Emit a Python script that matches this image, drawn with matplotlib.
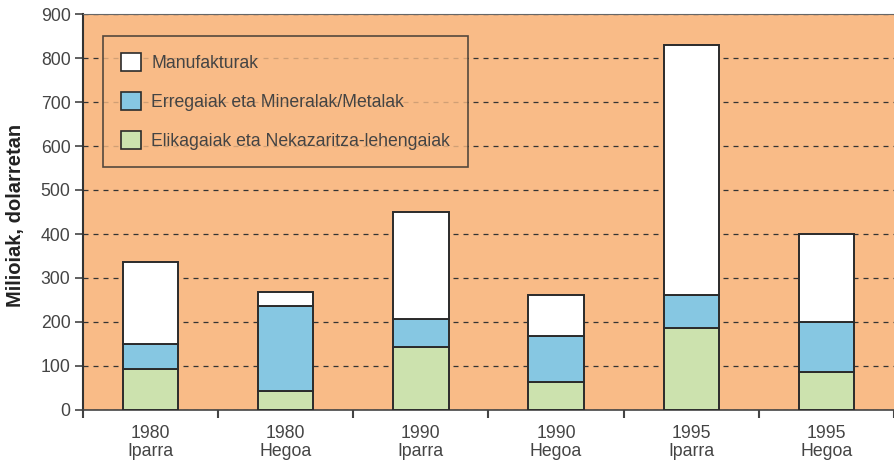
import numpy as np
import matplotlib
matplotlib.use('Agg')
import matplotlib.pyplot as plt
from matplotlib.patches import Patch

plt.rcParams['font.family'] = ['Liberation Sans', 'DejaVu Sans']

categories = ['1980\nIparra', '1980\nHegoa', '1990\nIparra', '1990\nHegoa', '1995\nIparra', '1995\nHegoa']
elikagaiak = [94, 44, 144, 63, 187, 87]
erregaiak = [56, 193, 62, 105, 74, 113]
manufakturak = [186, 31, 244, 94, 569, 200]

labels = ['Manufakturak', 'Erregaiak eta Mineralak/Metalak', 'Elikagaiak eta Nekazaritza-lehengaiak']
colors = ['#ffffff', '#86c7e2', '#cce2ae']
bg = '#f9bb87'
edge = '#2b2b2b'
txt = '#444444'

fig = plt.figure(figsize=(8.94, 4.62), dpi=100)
ax = fig.add_axes([83/894, 52/462, 811/894, 396/462])
ax.set_facecolor(bg)

x = np.arange(len(categories))
w = 0.41
b1 = np.array(elikagaiak)
b2 = b1 + np.array(erregaiak)
ax.bar(x, elikagaiak, w, color=colors[2], edgecolor=edge, linewidth=1.4, zorder=3)
ax.bar(x, erregaiak, w, bottom=b1, color=colors[1], edgecolor=edge, linewidth=1.4, zorder=3)
ax.bar(x, manufakturak, w, bottom=b2, color=colors[0], edgecolor=edge, linewidth=1.4, zorder=3)

ax.set_ylim(0, 900)
ax.set_xlim(-0.5, 5.47)
ax.set_yticks(range(0, 1000, 100))
ax.yaxis.grid(True, linestyle=(0, (4, 4)), color='#333333', linewidth=0.9, zorder=1)
ax.set_axisbelow(True)

# category labels centered, ticks between categories
ax.set_xticks(x)
ax.set_xticklabels(categories, fontsize=12.7, color=txt, linespacing=1.05)
ax.tick_params(axis='x', length=0, pad=11)
ax.set_xticks(np.arange(-0.5, 6, 1), minor=True)
ax.tick_params(axis='x', which='minor', length=6, width=1.5, color='#444444')
ax.tick_params(axis='y', length=6, width=1.2, color='#444444', labelsize=12.7, labelcolor=txt, pad=3)

ax.spines['right'].set_visible(False)
ax.spines['top'].set_color('#666666')
ax.spines['left'].set_color('#333333')
ax.spines['left'].set_linewidth(1.5)
ax.spines['bottom'].set_color('#444444')
ax.spines['bottom'].set_linewidth(1.2)

fig.text(16/894, (462-215)/462, 'Milioiak, dolarretan', rotation=90, ha='center', va='center',
         fontsize=14.5, fontweight='bold', color='#222222')

handles = [Patch(facecolor=c, edgecolor=edge, linewidth=1.2) for c in colors]
leg = ax.legend(handles, labels, loc='upper left', bbox_to_anchor=(0.025, 0.945), borderaxespad=0,
                fontsize=12.7, frameon=True, fancybox=False, facecolor=bg, edgecolor=edge,
                handlelength=1.13, handleheight=1.13, labelspacing=1.15, borderpad=1.0,
                handletextpad=0.6)
leg.get_frame().set_linewidth(1.2)
for t in leg.get_texts():
    t.set_color(txt)

plt.savefig('out.png', dpi=100)
